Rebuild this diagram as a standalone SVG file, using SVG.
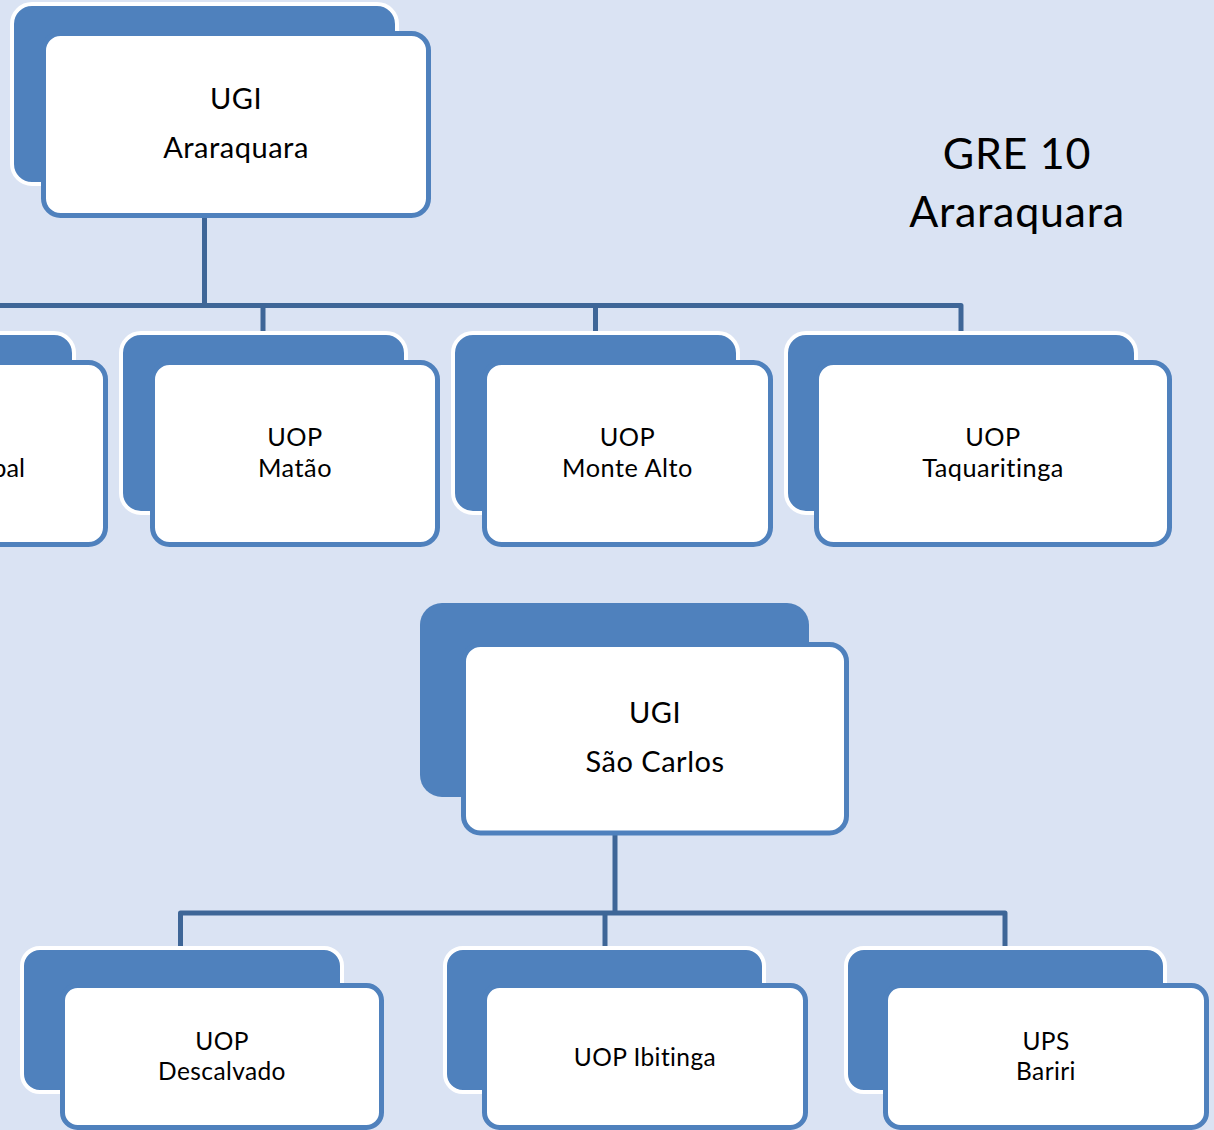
<svg xmlns="http://www.w3.org/2000/svg" width="1214" height="1130" viewBox="0 0 1214 1130">
<style>
.bg{fill:#DAE3F3}
.back{fill:#4F81BD;stroke:#FFFFFF;stroke-width:4}
.backn{fill:#4F81BD}
.front{fill:#FFFFFF;stroke:#4F81BD;stroke-width:5}
.conn{fill:none;stroke:#3E6697;stroke-width:5;stroke-linejoin:round}
text{font-family:Lato,"Liberation Sans",sans-serif;fill:#000;text-anchor:middle}
.big{font-size:29px;letter-spacing:0.5px}
.mid{font-size:25.3px;letter-spacing:0.5px}
.sm{font-size:24.5px;letter-spacing:0.4px}
.title{font-size:43px;letter-spacing:0.7px}
</style>
<rect class="bg" x="0" y="0" width="1214" height="1130"/>
<g id="connectors">
<path class="conn" d="M204.5 218 V305.5"/>
<path class="conn" d="M0 305.5 H961 V333"/>
<path class="conn" d="M263 305.5 V333"/>
<path class="conn" d="M595.5 305.5 V333"/>
<path class="conn" d="M615 835 V913"/>
<path class="conn" d="M180.5 946 V913 H1005 V946"/>
<path class="conn" d="M605 913 V946"/>
</g>
<g id="title">
<text class="title" x="1017" y="169">GRE 10</text>
<text class="title" x="1017" y="227">Araraquara</text>
</g>
<g id="ugi-araraquara">
<rect class="back" x="12" y="4" width="385" height="180" rx="20"/>
<rect class="front" x="43.5" y="33.5" width="385" height="182" rx="17"/>
<text class="big" x="236" y="109">UGI</text>
<text class="big" x="236" y="158">Araraquara</text>
</g>
<g id="uop-cut">
<rect class="back" x="-211" y="333" width="285" height="180" rx="20"/>
<rect class="front" x="-179.5" y="362.5" width="285" height="182" rx="17"/>
<text class="mid" x="25" y="477" style="text-anchor:end;letter-spacing:0">pal</text>
</g>
<g id="uop-matao">
<rect class="back" x="121" y="333" width="285" height="180" rx="20"/>
<rect class="front" x="152.5" y="362.5" width="285" height="182" rx="17"/>
<text class="mid" x="295" y="446">UOP</text>
<text class="mid" x="295" y="477">Matão</text>
</g>
<g id="uop-monte-alto">
<rect class="back" x="453" y="333" width="285" height="180" rx="20"/>
<rect class="front" x="484.5" y="362.5" width="286" height="182" rx="17"/>
<text class="mid" x="627.5" y="446">UOP</text>
<text class="mid" x="627.5" y="477">Monte Alto</text>
</g>
<g id="uop-taquaritinga">
<rect class="back" x="786" y="333" width="350" height="180" rx="20"/>
<rect class="front" x="816.5" y="362.5" width="353" height="182" rx="17"/>
<text class="mid" x="993" y="446">UOP</text>
<text class="mid" x="993" y="477">Taquaritinga</text>
</g>
<g id="ugi-sao-carlos">
<rect class="backn" x="420" y="603" width="389" height="194" rx="22"/>
<rect class="front" x="463.5" y="644.5" width="383" height="188.5" rx="17"/>
<text class="big" x="655" y="723">UGI</text>
<text class="big" x="655" y="772">São Carlos</text>
</g>
<g id="uop-descalvado">
<rect class="back" x="22" y="948" width="320" height="144" rx="18"/>
<rect class="front" x="62.5" y="985.5" width="319" height="142" rx="15"/>
<text class="sm" x="222" y="1050">UOP</text>
<text class="sm" x="222" y="1080">Descalvado</text>
</g>
<g id="uop-ibitinga">
<rect class="back" x="445" y="948" width="319" height="144" rx="18"/>
<rect class="front" x="484.5" y="985.5" width="321" height="142" rx="15"/>
<text class="sm" x="645" y="1066">UOP Ibitinga</text>
</g>
<g id="ups-bariri">
<rect class="back" x="846" y="948" width="319" height="144" rx="18"/>
<rect class="front" x="885.5" y="985.5" width="321" height="142" rx="15"/>
<text class="sm" x="1046" y="1050">UPS</text>
<text class="sm" x="1046" y="1080">Bariri</text>
</g>
</svg>
